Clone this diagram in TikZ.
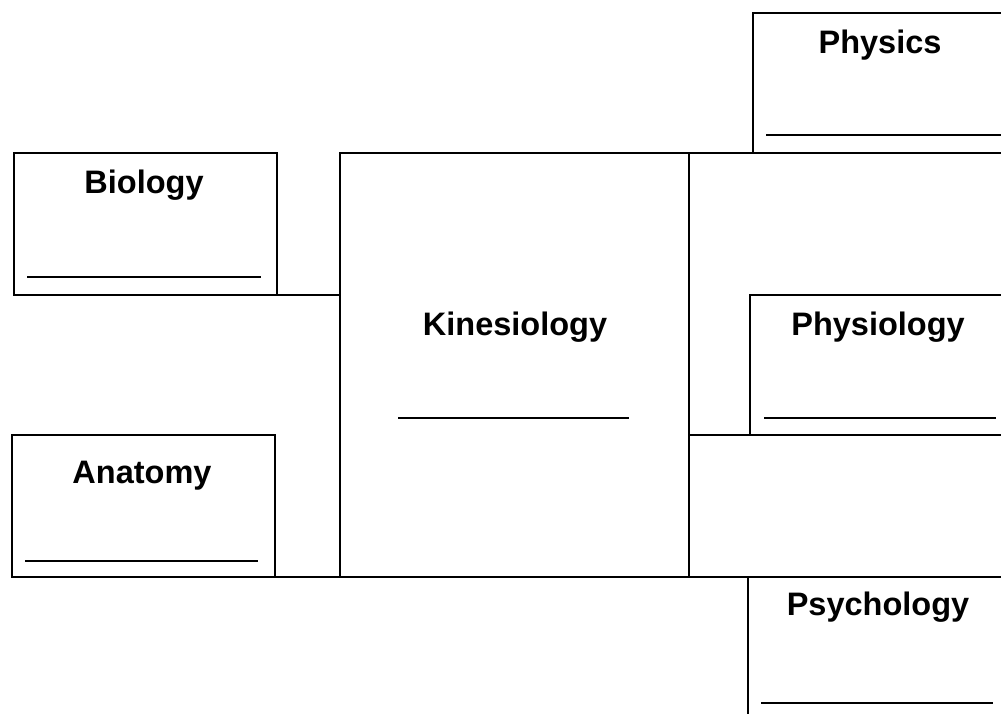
\documentclass[tikz,border=0pt]{standalone}
\usepackage{fontspec}
\setmainfont{Liberation Sans}
\begin{document}
\begin{tikzpicture}[x=1pt,y=-1pt,
  box/.style={draw, line width=1.9pt, rectangle, inner sep=0pt, outer sep=0pt},
  lbl/.style={font=\fontsize{32.5}{38}\selectfont\bfseries, anchor=base, inner sep=0pt},
  blank/.style={line width=1.8pt},
  conn/.style={line width=1.9pt}]
\useasboundingbox (0,0) rectangle (1001,713);
\clip (0,0) rectangle (1001,713);
% boxes
\node[box, minimum width=263pt, minimum height=142pt] (bio) at (145.5,224) {};
\node[box, minimum width=263pt, minimum height=142pt] (ana) at (143.5,506) {};
\node[box, minimum width=349pt, minimum height=424pt] (kin) at (514.5,365) {};
\node[box, minimum width=267pt, minimum height=140pt] (phys) at (886.5,83) {};
\node[box, minimum width=270pt, minimum height=140pt] (physio) at (885,365) {};
\node[box, minimum width=272pt, minimum height=153pt] (psy) at (884,653.5) {};
% labels
\node[lbl] (tbio) at (144,193) {Biology};
\node[lbl] (tana) at (142,483) {Anatomy};
\node[lbl] (tkin) at (515,335) {Kinesiology};
\node[lbl] (tphys) at (880,53) {Physics};
\node[lbl] (tphysio) at (878,335) {Physiology};
\node[lbl] (tpsy) at (878,615) {Psychology};
% blank lines
\draw[blank] (27,277) -- (261,277);
\draw[blank] (25,561) -- (258,561);
\draw[blank] (398,418) -- (629,418);
\draw[blank] (766,135) -- (1001,135);
\draw[blank] (764,418) -- (996,418);
\draw[blank] (761,703) -- (993,703);
% connectors
\draw[conn] (bio.south east) -- (bio.south east -| kin.west);
\draw[conn] (ana.south east) -- (kin.south west);
\draw[conn] (kin.north east) -- (phys.south west);
\draw[conn] (physio.south west -| kin.east) -- (physio.south west);
\draw[conn] (kin.south east) -- (psy.north west);
\end{tikzpicture}
\end{document}
